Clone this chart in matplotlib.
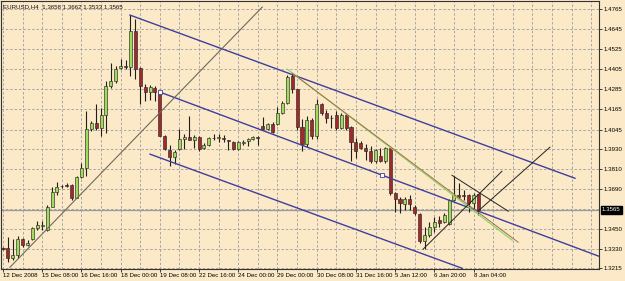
import matplotlib

matplotlib.use("Agg")

import matplotlib.pyplot as plt
import matplotlib.transforms as mtransforms
import numpy as np

BACKGROUND = "#FCE9C8"
BULL_COLOR = "#9FDC5C"
BEAR_COLOR = "#A3282A"
CHANNEL_COLOR = "#3E3E9E"
FONT = ["Liberation Sans", "DejaVu Sans"]
FONT_SIZE = 4.4

TITLE = "EURUSD,H4  1.3658 1.3662 1.3533 1.3565"

# H4 candles, one entry per bar
OPEN = [1.3340, 1.3335, 1.3275, 1.3295, 1.3389, 1.3355, 1.3389, 1.3455, 1.3470, 1.3445,
        1.3585, 1.3673, 1.3705, 1.3711, 1.3711, 1.3639, 1.3761, 1.3813, 1.4051, 1.4085,
        1.4055, 1.4131, 1.4305, 1.4335, 1.4411, 1.4425, 1.4421, 1.4635, 1.4415, 1.4301,
        1.4271, 1.4295, 1.4265, 1.4009, 1.3925, 1.3881, 1.3929, 1.3989, 1.4001, 1.3985,
        1.4001, 1.3935, 1.3955, 1.3995, 1.3995, 1.3993, 1.3985, 1.3971, 1.3929, 1.3967,
        1.3977, 1.3989, 1.3999, 1.4069, 1.4049, 1.4081, 1.4081, 1.4145, 1.4201, 1.4365,
        1.4285, 1.4061, 1.3961, 1.4105, 1.4009, 1.4195, 1.4145, 1.4115, 1.4135, 1.4055,
        1.4135, 1.4061, 1.3969, 1.3965, 1.3935, 1.3919, 1.3855, 1.3889, 1.3855, 1.3935,
        1.3669, 1.3631, 1.3601, 1.3631, 1.3585, 1.3539, 1.3381, 1.3415, 1.3465, 1.3505,
        1.3495, 1.3481, 1.3625, 1.3655, 1.3655, 1.3655, 1.3605, 1.3658]
HIGH = [1.3345, 1.3405, 1.3389, 1.3409, 1.3395, 1.3385, 1.3461, 1.3501, 1.3501, 1.3595,
        1.3701, 1.3729, 1.3715, 1.3725, 1.3721, 1.3765, 1.3845, 1.4155, 1.4095, 1.4195,
        1.4175, 1.4335, 1.4445, 1.4425, 1.4465, 1.4461, 1.4729, 1.4705, 1.4418, 1.4315,
        1.4309, 1.4305, 1.4275, 1.4015, 1.3955, 1.3921, 1.4049, 1.4021, 1.4129, 1.4015,
        1.4005, 1.3965, 1.4001, 1.4021, 1.4021, 1.4015, 1.3985, 1.3975, 1.3975, 1.3981,
        1.3997, 1.4009, 1.4005, 1.4121, 1.4085, 1.4089, 1.4181, 1.4215, 1.4369, 1.4375,
        1.4289, 1.4109, 1.4129, 1.4115, 1.4225, 1.4205, 1.4161, 1.4135, 1.4155, 1.4141,
        1.4141, 1.4065, 1.3995, 1.3975, 1.3961, 1.3945, 1.3929, 1.3935, 1.3939, 1.3939,
        1.3675, 1.3641, 1.3645, 1.3655, 1.3595, 1.3545, 1.3465, 1.3495, 1.3525, 1.3529,
        1.3545, 1.3629, 1.3765, 1.3725, 1.3685, 1.3661, 1.3665, 1.3662]
LOW = [1.3325, 1.3255, 1.3265, 1.3275, 1.3345, 1.3351, 1.3385, 1.3445, 1.3445, 1.3441,
       1.3581, 1.3655, 1.3695, 1.3701, 1.3625, 1.3635, 1.3755, 1.3765, 1.4035, 1.4045,
       1.4009, 1.4025, 1.4295, 1.4325, 1.4409, 1.4409, 1.4365, 1.4345, 1.4195, 1.4215,
       1.4221, 1.4215, 1.4005, 1.3925, 1.3825, 1.3841, 1.3921, 1.3929, 1.3981, 1.3935,
       1.3915, 1.3929, 1.3945, 1.3981, 1.3969, 1.3969, 1.3925, 1.3925, 1.3921, 1.3955,
       1.3949, 1.3985, 1.3955, 1.4045, 1.4045, 1.4025, 1.4075, 1.4139, 1.4195, 1.4265,
       1.4045, 1.3915, 1.3941, 1.3989, 1.3989, 1.4135, 1.4085, 1.4055, 1.4045, 1.4049,
       1.4045, 1.3855, 1.3875, 1.3929, 1.3861, 1.3845, 1.3845, 1.3849, 1.3845, 1.3655,
       1.3555, 1.3545, 1.3565, 1.3565, 1.3535, 1.3365, 1.3329, 1.3405, 1.3435, 1.3465,
       1.3489, 1.3475, 1.3621, 1.3629, 1.3625, 1.3555, 1.3569, 1.3533]
CLOSE = [1.3330, 1.3275, 1.3295, 1.3389, 1.3355, 1.3369, 1.3455, 1.3475, 1.3472, 1.3585,
         1.3673, 1.3701, 1.3706, 1.3709, 1.3639, 1.3761, 1.3813, 1.4051, 1.4085, 1.4055,
         1.4131, 1.4305, 1.4335, 1.4409, 1.4425, 1.4421, 1.4635, 1.4405, 1.4305, 1.4271,
         1.4301, 1.4271, 1.4009, 1.3929, 1.3881, 1.3909, 1.3989, 1.4001, 1.3985, 1.4001,
         1.3929, 1.3955, 1.3995, 1.3993, 1.3999, 1.3989, 1.3975, 1.3929, 1.3971, 1.3969,
         1.3991, 1.4001, 1.3997, 1.4049, 1.4081, 1.4029, 1.4145, 1.4201, 1.4361, 1.4285,
         1.4061, 1.3961, 1.4101, 1.4009, 1.4195, 1.4141, 1.4115, 1.4113, 1.4055, 1.4135,
         1.4055, 1.3969, 1.3915, 1.3935, 1.3919, 1.3855, 1.3925, 1.3855, 1.3935, 1.3669,
         1.3633, 1.3605, 1.3631, 1.3601, 1.3545, 1.3381, 1.3415, 1.3465, 1.3495, 1.3489,
         1.3535, 1.3625, 1.3655, 1.3641, 1.3651, 1.3605, 1.3655, 1.3565]

DATE_TICKS = [0, 8, 16, 24, 32, 40, 48, 56, 64, 72, 80, 88, 96]
DATE_LABELS = ["12 Dec 2008", "15 Dec 08:00", "16 Dec 16:00", "18 Dec 00:00", "19 Dec 08:00",
               "22 Dec 16:00", "24 Dec 00:00", "29 Dec 00:00", "30 Dec 08:00", "31 Dec 16:00",
               "5 Jan 12:00", "6 Jan 20:00", "8 Jan 04:00"]
PRICE_LABELS = ["1.4765", "1.4645", "1.4525", "1.4405", "1.4285", "1.4165", "1.4045",
                "1.3930", "1.3810", "1.3690", "1.3450", "1.3330", "1.3215"]
CURRENT_PRICE = 1.3565

# drawn objects: (bar, price) start and end, colour, width
TREND_LINES = [
    ((25.9, 1.4729), (116.7, 1.3754), CHANNEL_COLOR, 1.0),
    ((32.0, 1.4269), (121.6, 1.3288), CHANNEL_COLOR, 1.0),
    ((30.0, 1.3898), (93.7, 1.3216), CHANNEL_COLOR, 1.0),
    ((1.4, 1.3222), (52.9, 1.4777), "#6E6A5C", 0.8),
    ((58.0, 1.4406), (103.9, 1.3384), "#8FD46A", 0.9),
    ((59.0, 1.4382), (105.1, 1.3372), "#A0704A", 0.7),
    ((91.6, 1.3772), (103.1, 1.3557), "#222222", 0.7),
    ((85.7, 1.3330), (101.8, 1.3796), "#222222", 0.7),
    ((96.9, 1.3557), (111.6, 1.3940), "#222222", 0.7),
]
ANCHORS = [(32.0, 1.4269), (77.3, 1.3772)]


def draw_candles(axis):
    bars = np.arange(len(OPEN))
    opens = np.array(OPEN)
    closes = np.array(CLOSE)
    axis.vlines(bars, LOW, HIGH, color="#1E1E1E", linewidth=0.8, zorder=2)
    bottoms = np.minimum(opens, closes)
    heights = np.maximum(np.abs(closes - opens), 0.00012)
    colors = [BULL_COLOR if close >= open_ else BEAR_COLOR for open_, close in zip(opens, closes)]
    axis.bar(bars, heights, bottom=bottoms, width=0.62, color=colors,
             edgecolor="#2A2A2A", linewidth=0.45, zorder=3)


def draw_objects(axis):
    for start, end, color, width in TREND_LINES:
        axis.plot([start[0], end[0]], [start[1], end[1]], color=color, linewidth=width, zorder=4)
    axis.plot([point[0] for point in ANCHORS], [point[1] for point in ANCHORS], linestyle="none",
              marker="s", markersize=2.6, markerfacecolor="white", markeredgecolor=CHANNEL_COLOR,
              markeredgewidth=0.6, zorder=5)


def main():
    figure = plt.figure(figsize=(6.25, 2.81), dpi=100, facecolor=BACKGROUND)
    axis = figure.add_axes([0.0016, 0.0427, 0.9568, 0.9537], facecolor=BACKGROUND)

    axis.set_xlim(-0.41, 121.6)
    axis.set_ylim(1.3212, 1.4813)

    # grid every four bars, labels every eight
    for bar in range(0, 122, 4):
        axis.axvline(bar, color="#A6A6A6", linewidth=0.7, linestyle=(0, (2.5, 2)), zorder=1)
    for label in PRICE_LABELS + ["1.3570"]:
        axis.axhline(float(label), color="#A6A6A6", linewidth=0.7, linestyle=(0, (2.5, 2)), zorder=1)
    axis.axhline(CURRENT_PRICE, color="#9A9A9A", linewidth=0.9, zorder=1)

    draw_candles(axis)
    draw_objects(axis)

    axis.set_xticks(DATE_TICKS)
    axis.set_xticklabels(DATE_LABELS, ha="left", fontsize=FONT_SIZE, family=FONT)
    axis.yaxis.tick_right()
    axis.set_yticks([float(label) for label in PRICE_LABELS])
    axis.set_yticklabels(PRICE_LABELS, fontsize=FONT_SIZE, family=FONT)
    axis.tick_params(axis="x", length=2.0, width=0.6, pad=1.2, color="#222222")
    axis.tick_params(axis="y", length=2.0, width=0.6, pad=1.2, color="#222222")
    for spine in axis.spines.values():
        spine.set_color("#333333")
        spine.set_linewidth(0.8)

    price_transform = mtransforms.blended_transform_factory(axis.transAxes, axis.transData)
    axis.text(1.005, CURRENT_PRICE, f"{CURRENT_PRICE:.4f}", transform=price_transform, ha="left",
              va="center", fontsize=FONT_SIZE, family=FONT, color="white",
              bbox=dict(boxstyle="square,pad=0.2", facecolor="black", edgecolor="black"))

    axis.text(0.004, 0.988, TITLE, transform=axis.transAxes, ha="left", va="top",
              fontsize=FONT_SIZE, family=FONT, color="#111111")

    figure.savefig("out.png", dpi=100, facecolor=BACKGROUND)
    plt.close(figure)


if __name__ == "__main__":
    main()
